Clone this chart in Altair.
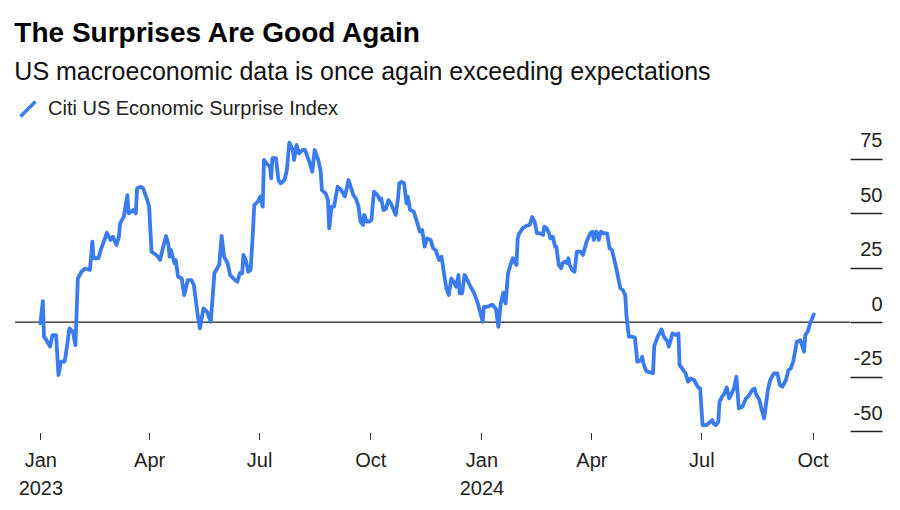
import altair as alt
import pandas as pd

# Citi US Economic Surprise Index (days since 2023-01-01, index value)
day_offset = [
    0, 2, 3, 5, 8, 10, 13, 15, 17, 20, 21, 24, 27, 29, 31, 34, 37, 41, 43, 44,
    48, 50, 53, 55, 58, 60, 63, 65, 66, 69, 72, 73, 77, 79, 80, 83, 85, 88, 90, 92,
    96, 99, 101, 104, 106, 107, 108, 111, 112, 114, 117, 119, 122, 125, 127, 130, 132, 135, 138, 141,
    144, 147, 148, 150, 152, 155, 157, 161, 163, 165, 167, 168, 170, 172, 174, 176, 177, 180, 182, 184,
    185, 187, 190, 191, 192, 195, 197, 199, 202, 204, 206, 209, 210, 212, 214, 217, 219, 221, 223, 225,
    227, 230, 232, 233, 236, 238, 239, 241, 243, 246, 249, 252, 255, 259, 261, 263, 265, 267, 268, 270,
    272, 274, 276, 279, 281, 282, 284, 286, 288, 290, 294, 296, 297, 299, 301, 303, 304, 306, 309, 312,
    314, 316, 318, 320, 323, 325, 327, 330, 332, 334, 336, 338, 340, 342, 344, 346, 347, 349, 351, 354,
    356, 359, 362, 365, 366, 367, 370, 374, 377, 379, 381, 383, 384, 385, 387, 389, 391, 392, 393, 394,
    395, 396, 399, 402, 405, 407, 409, 411, 414, 416, 417, 419, 421, 422, 424, 426, 427, 429, 431, 432,
    434, 436, 437, 438, 440, 442, 444, 447, 449, 452, 455, 457, 458, 460, 461, 462, 464, 466, 469, 471,
    473, 474, 476, 478, 480, 482, 484, 485, 487, 490, 492, 494, 497, 498, 499, 501, 502, 504, 507, 508,
    511, 514, 516, 519, 520, 522, 523, 526, 528, 529, 532, 534, 536, 538, 541, 544, 546, 548, 551, 553,
    556, 557, 559, 561, 562, 564, 566, 568, 570, 572, 574, 576, 578, 581, 584, 586, 589, 591, 592, 595,
    597, 599, 602, 604, 607, 610, 612, 614, 617, 619, 621, 623, 626, 629, 632, 633, 635, 637, 640,
]
surprise_index = [
    -0.6, 9.6, -6.7, -8.3, -11.3, -6, -6, -24.3, -18.2, -18.2, -15.2, -2.9, -4.4, -10.6, 20, 23.1, 24.6, 23.9, 36.9, 29.3,
    29.3, 33.1, 37.7, 41, 37.7, 39.2, 35.4, 39.2, 45.3, 48.4, 58.3, 49.9, 51.4, 49.9, 61.4, 62.1, 61.4, 56.8, 53, 32.3,
    30.8, 28.5, 33.1, 39.5, 35.4, 30, 33.1, 27, 28.5, 20.8, 20, 12.4, 19.3, 19.3, 17, 4, -2.9, 6.3, 4.7, 0.1,
    22.4, 25.4, 26.2, 39.5, 30, 27, 21.6, 19.3, 18.5, 22.4, 22.4, 30.8, 28.5, 23.1, 23.9, 42.3, 53.7, 55.3, 57.6, 53,
    74.4, 72.9, 71.3, 66, 75.2, 75.2, 65.2, 63.7, 65.2, 69.8, 82.4, 79, 74.4, 81.3, 77.5, 79, 79, 75.9, 72.9, 69,
    79, 74.4, 69, 60.6, 59.1, 56, 43, 53, 53, 62.1, 60.6, 57.6, 65.2, 58.3, 56.8, 53.7, 46.1, 44.6, 49.2, 46.1,
    46.1, 46.9, 59.9, 58.3, 56, 56.8, 51.4, 52, 56, 54.5, 49.2, 57, 63.7, 64.4, 63.7, 54.5, 57.6, 51.4, 50.7, 45.3,
    41.5, 42.3, 34.6, 38.4, 37.7, 33.9, 33.1, 28.5, 30, 22.4, 15.5, 12.4, 20, 18.5, 16.2, 21.6, 13.2, 13.2, 21.6, 18.5,
    16.2, 13.2, 8.6, 2.4, 0.1, 7, 7, 8, 6, -2.2, 8.6, 13.5, 11.6, 8.6, 22.4, 26.2, 29.3, 29, 27, 26.2,
    38.4, 40.3, 43, 44.1, 44.6, 48.2, 46.1, 40.7, 40.7, 40, 43.8, 43, 40.7, 38.4, 39.2, 34.6, 34.6, 26.2, 24.7, 27,
    27.7, 27, 29.3, 26.2, 23.9, 23.1, 32.3, 32.3, 30.8, 36.9, 40.7, 41.5, 37.7, 41.5, 40.7, 37.7, 41.5, 40.7, 40.7, 33.9,
    33.1, 30.8, 26.2, 20.8, 15.5, 14.7, 12.4, 3.2, -6.7, -6.7, -7.2, -18.2, -17.5, -15.9, -19, -22, -22.8, -23, -23.5, -11,
    -6.5, -3.4, -6.7, -9, -11.3, -7.5, -5.2, -6, -5.2, -19.8, -22, -23.6, -27.4, -25.9, -26.6, -29.7, -30.5, -47.3, -47.3, -46.5,
    -45, -46.5, -47.3, -45.8, -36.6, -34.3, -32.8, -30, -35, -32.8, -30.5, -25.1, -39.6, -38.9, -35, -34, -31.2, -30.5, -32.8, -35.8,
    -40.4, -44.2, -31.2, -26.6, -23.6, -23.6, -28.9, -29.7, -26.6, -22, -21.3, -18.2, -9, -8.3, -13.6, -6, -4.4, -0.6, 3.5,
]
series_name = "Citi US Economic Surprise Index"
x_tick_dates = [(2023, 1), (2023, 4), (2023, 7), (2023, 10), (2024, 1), (2024, 4), (2024, 7), (2024, 10)]
y_ticks = [-50, -25, 0, 25, 50, 75]
zero_level = [0]

FONT = "Liberation Sans"
BLUE = "#3a7bf0"

start = pd.Timestamp("2023-01-01")
df = pd.DataFrame({
    "date": [(start + pd.Timedelta(days=d)).strftime("%Y-%m-%d") for d in day_offset],
    "value": surprise_index,
    "series": series_name,
})
zero_df = pd.DataFrame({"zero": zero_level})

x_scale = alt.Scale(domain=[alt.DateTime(year=2022, month=12, date=11),
                            alt.DateTime(year=2024, month=11, date=1)])
y_scale = alt.Scale(domain=[-50, 90], nice=False, zero=False)

x_axis = alt.Axis(
    values=[alt.DateTime(year=y, month=m, date=1) for y, m in x_tick_dates],
    labelExpr="month(datum.value) == 0 ? [timeFormat(datum.value, '%b'), timeFormat(datum.value, '%Y')] : timeFormat(datum.value, '%b')",
    title=None, domain=False, grid=False,
    ticks=True, tickSize=7, tickColor="#333", tickWidth=1, offset=1.5,
    labelFont=FONT, labelFontSize=20, labelColor="#222", labelPadding=11,
    labelLineHeight=28, labelAlign="center", labelFlush=False,
)
y_axis = alt.Axis(
    orient="right", values=y_ticks, title=None, domain=False, grid=False,
    ticks=True, tickSize=32, tickColor="#222", tickWidth=1.3,
    labelExpr="'' + datum.value",
    labelFont=FONT, labelFontSize=20, labelColor="#222",
    labelAlign="right", labelPadding=0, labelBaseline="alphabetic", labelOffset=-12,
)

rule = alt.Chart(zero_df).mark_rule(color="#222", strokeWidth=1.3).encode(
    y=alt.Y("zero:Q", scale=y_scale, axis=y_axis)
)

line = alt.Chart(df).mark_line(strokeWidth=3.8, strokeJoin="round", strokeCap="round").encode(
    x=alt.X("date:T", scale=x_scale, axis=x_axis),
    y=alt.Y("value:Q", scale=y_scale, axis=y_axis),
    color=alt.Color(
        "series:N",
        scale=alt.Scale(domain=[series_name], range=[BLUE]),
        legend=alt.Legend(
            orient="none", legendX=3, legendY=-27, title=None, padding=0,
            symbolType="M-1,1L1,-1", symbolSize=225, symbolStrokeWidth=3.5,
            labelFont=FONT, labelFontSize=20, labelColor="#222", labelOffset=10,
            labelLimit=600,
        ),
    ),
)

chart = alt.layer(rule, line).properties(
    width=835,
    height=305,
    padding={"left": 6, "top": 12, "right": 5, "bottom": 5},
    view=alt.ViewBackground(strokeOpacity=0, strokeWidth=0),
    title=alt.TitleParams(
        text="The Surprises Are Good Again",
        subtitle="US macroeconomic data is once again exceeding expectations",
        anchor="start", font=FONT, fontSize=28, fontWeight="bold", color="#000",
        subtitleFont=FONT, subtitleFontSize=25, subtitleColor="#111",
        subtitlePadding=12, offset=14,
    ),
).configure_view(strokeWidth=0, strokeOpacity=0).configure(background="white")

chart.save("out.html", embed_options={"renderer": "svg", "actions": False})
